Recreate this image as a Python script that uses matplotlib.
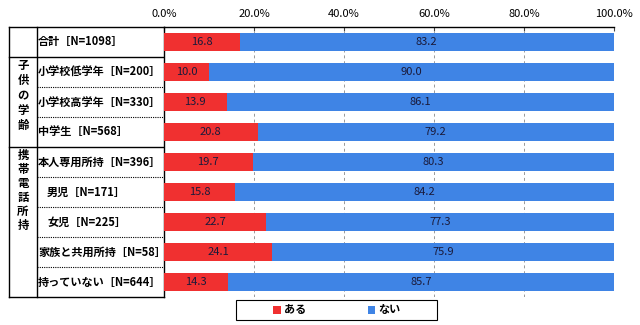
import matplotlib.pyplot as plt
from matplotlib.lines import Line2D
from matplotlib.patches import Rectangle

plt.rcParams['font.family'] = ['Noto Sans CJK JP', 'DejaVu Sans']

# データ
labels = ['合計［N=1098］', '小学校低学年［N=200］', '小学校高学年［N=330］',
          '中学生［N=568］', '本人専用所持［N=396］', '男児［N=171］',
          '女児［N=225］', '家族と共用所持［N=58］', '持っていない［N=644］']
aru = [16.8, 10.0, 13.9, 20.8, 19.7, 15.8, 22.7, 24.1, 14.3]
nai = [83.2, 90.0, 86.1, 79.2, 80.3, 84.2, 77.3, 75.9, 85.7]
groups = ['子供の学齢', '携帯電話所持']
series = ['ある', 'ない']
ticks = [0, 20, 40, 60, 80, 100]

red = '#f03030'
blue = '#3f84e5'
txt = '#1a1a3a'

fig = plt.figure(figsize=(6.4, 3.25), dpi=100)

# 表の部分 (ピクセル座標)
tab = fig.add_axes([0, 0, 1, 1])
tab.set_xlim(0, 640)
tab.set_ylim(325, 0)
tab.axis('off')

ax = fig.add_axes([164 / 640, 1 - 297 / 325, 450 / 640, 270 / 325])
y = list(range(len(labels)))
b1 = ax.barh(y, aru, height=0.62, color=red, label=series[0], zorder=3)
b2 = ax.barh(y, nai, left=aru, height=0.62, color=blue, label=series[1], zorder=3)
for i in y:
    ax.text(aru[i] / 2, i, f'{aru[i]:.1f}', ha='center', va='center',
            fontsize=8, color=txt, zorder=4)
    ax.text(aru[i] + nai[i] / 2, i, f'{nai[i]:.1f}', ha='center', va='center',
            fontsize=8, color=txt, zorder=4)

ax.set_xlim(0, 100)
ax.set_ylim(len(labels) - 0.5, -0.5)
ax.set_yticks([])
ax.set_xticks(ticks)
ax.set_xticklabels([f'{t:.1f}%' for t in ticks])
ax.xaxis.tick_top()
ax.tick_params(axis='x', direction='in', length=3, labelsize=8, pad=6,
               color='#444444')
for t in ticks[1:-1]:
    ax.axvline(t, color='#999999', lw=0.7, ls=(0, (3, 3)), zorder=1)
ax.spines['right'].set_visible(False)
ax.spines['bottom'].set_visible(False)
ax.spines['top'].set_linewidth(1.0)
ax.spines['left'].set_linewidth(1.0)

# 表の枠線
row_top = 27
pitch = 30
x0, x1, x2 = 9, 37, 164
solid = dict(color='black', lw=1.0)
dot = dict(color='black', lw=0.8, ls=(0, (1, 1)))
tab.add_line(Line2D([x0, x2], [row_top, row_top], **solid))
tab.add_line(Line2D([x0, x2], [297, 297], **solid))
tab.add_line(Line2D([x0, x0], [row_top, 297], **solid))
tab.add_line(Line2D([x1, x1], [row_top, 297], **solid))
for k in range(1, len(labels)):
    yy = row_top + k * pitch
    if k in (1, 4):
        tab.add_line(Line2D([x0, x2], [yy, yy], **solid))
    else:
        tab.add_line(Line2D([x1, x2], [yy, yy], **dot))

for k, lab in enumerate(labels):
    yy = row_top + k * pitch + pitch / 2
    if k in (5, 6):
        tab.text(47, yy, lab, ha='left', va='center', fontsize=8,
                 fontweight='bold', style='italic')
    else:
        tab.text(38, yy, lab, ha='left', va='center', fontsize=8,
                 fontweight='bold')

tab.text(23, 59, '\n'.join(groups[0]), ha='center', va='top', fontsize=8.2,
         fontweight='bold', linespacing=1.2)
tab.text(23, 149, '\n'.join(groups[1]), ha='center', va='top', fontsize=8.2,
         fontweight='bold', linespacing=1.1)

# 凡例
tab.add_patch(Rectangle((236, 300), 201, 20, fill=False, ec='black', lw=0.8))
leg = fig.legend(handles=[b1, b2], loc='center', ncol=2,
                 bbox_to_anchor=(337 / 640, 1 - 310 / 325), fontsize=8,
                 frameon=False, handlelength=0.7, handleheight=0.7,
                 handletextpad=0.3, columnspacing=5.5, borderaxespad=0)
for t in leg.get_texts():
    t.set_fontweight('bold')

fig.savefig('out.png', dpi=100)
